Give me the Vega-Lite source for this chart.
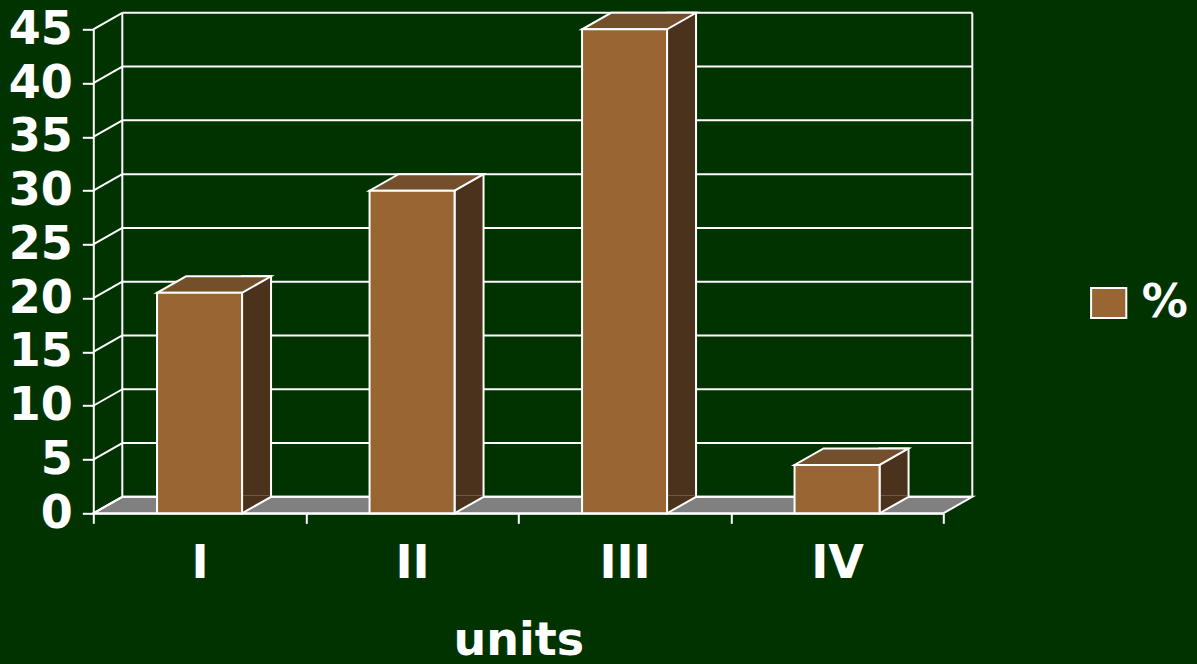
{
  "$schema": "https://vega.github.io/schema/vega-lite/v6.json",
  "width": 850,
  "height": 484,
  "autosize": {"type": "none"},
  "padding": {"left": 93.3, "top": 29.3, "right": 253.7, "bottom": 150.7},
  "background": "#003300",
  "config": {"view": {"stroke": null}, "font": "DejaVu Sans"},
  "datasets": {
    "shares": [
      {"unit": "I", "pct": 20.5, "series": "%"},
      {"unit": "II", "pct": 30, "series": "%"},
      {"unit": "III", "pct": 45, "series": "%"},
      {"unit": "IV", "pct": 4.5, "series": "%"}
    ],
    "levels": [
      {"level": 0}, {"level": 5}, {"level": 10}, {"level": 15}, {"level": 20},
      {"level": 25}, {"level": 30}, {"level": 35}, {"level": 40}, {"level": 45}
    ]
  },
  "layer": [
    {
      "description": "grey floor of the 3-D box",
      "data": {"values": [{}]},
      "mark": {"type": "point", "shape": "M-0.85,0L0.85,0L0.908,-0.033L-0.792,-0.033Z", "size": 1000000, "filled": true, "fill": "#808080", "stroke": "white", "strokeWidth": 2, "opacity": 1},
      "encoding": {
        "x": {"datum": "II", "type": "nominal", "bandPosition": 1, "scale": {"type": "band", "domain": ["I", "II", "III", "IV"], "paddingInner": 0, "paddingOuter": 0}},
        "y": {"datum": 0, "type": "quantitative", "scale": {"domain": [0, 45], "nice": false}}
      }
    },
    {
      "description": "gridlines on the back wall",
      "data": {"name": "levels"},
      "mark": {"type": "rule", "stroke": "white", "strokeWidth": 2, "xOffset": 29, "x2Offset": 29, "yOffset": -16.5},
      "encoding": {
        "x": {"datum": "I", "type": "nominal", "bandPosition": 0},
        "x2": {"datum": "IV", "bandPosition": 1},
        "y": {"field": "level", "type": "quantitative"}
      }
    },
    {
      "description": "gridlines on the left side wall",
      "data": {"name": "levels"},
      "mark": {"type": "rule", "stroke": "white", "strokeWidth": 2, "x2Offset": 29, "y2Offset": -16.5},
      "encoding": {
        "x": {"datum": "I", "type": "nominal", "bandPosition": 0},
        "x2": {"datum": "I", "bandPosition": 0},
        "y": {"field": "level", "type": "quantitative"},
        "y2": {"field": "level"}
      }
    },
    {
      "description": "back-left edge of the wall",
      "data": {"values": [{}]},
      "mark": {"type": "rule", "stroke": "white", "strokeWidth": 2, "xOffset": 29, "yOffset": -16.5, "y2Offset": -16.5},
      "encoding": {
        "x": {"datum": "I", "type": "nominal", "bandPosition": 0},
        "y": {"datum": 0, "type": "quantitative"},
        "y2": {"datum": 45}
      }
    },
    {
      "description": "back-right edge of the wall",
      "data": {"values": [{}]},
      "mark": {"type": "rule", "stroke": "white", "strokeWidth": 2, "xOffset": 29, "yOffset": -16.5, "y2Offset": -16.5},
      "encoding": {
        "x": {"datum": "IV", "type": "nominal", "bandPosition": 1},
        "y": {"datum": 0, "type": "quantitative"},
        "y2": {"datum": 45}
      }
    },
    {
      "description": "shaded right side of each column",
      "data": {"name": "shares"},
      "mark": {"type": "bar", "width": 29, "xOffset": 57, "yOffset": -16.5, "y2Offset": -16.5, "fill": "#4B321C", "stroke": "white", "strokeWidth": 2},
      "encoding": {
        "x": {"field": "unit", "type": "nominal"},
        "y": {"field": "pct", "type": "quantitative"},
        "y2": {"datum": 0}
      }
    },
    {
      "description": "lower corner of each side face, meeting the floor",
      "data": {"name": "shares"},
      "mark": {"type": "point", "shape": "M0.425,-0.175L0.425,0L0.715,-0.165L0.715,-0.175", "size": 40000, "filled": true, "fill": "#4B321C", "stroke": "white", "strokeWidth": 2, "opacity": 1},
      "encoding": {
        "x": {"field": "unit", "type": "nominal"},
        "y": {"datum": 0, "type": "quantitative"}
      }
    },
    {
      "description": "top face of each column",
      "data": {"name": "shares"},
      "mark": {"type": "point", "shape": "M-0.425,0L0.425,0L0.715,-0.165L-0.135,-0.165Z", "size": 40000, "filled": true, "fill": "#744F2B", "stroke": "white", "strokeWidth": 2, "opacity": 1},
      "encoding": {
        "x": {"field": "unit", "type": "nominal"},
        "y": {"field": "pct", "type": "quantitative"}
      }
    },
    {
      "description": "front face of each column",
      "data": {"name": "shares"},
      "mark": {"type": "bar", "width": {"band": 0.4}, "stroke": "white", "strokeWidth": 2, "opacity": 1},
      "encoding": {
        "x": {
          "field": "unit", "type": "nominal",
          "axis": {
            "title": "units", "labelAngle": 0, "labelAlign": "center", "labelFontSize": 46, "labelFontWeight": "bold", "labelColor": "white", "labelPadding": 40,
            "tickBand": "extent", "tickColor": "white", "tickSize": 10, "tickWidth": 2,
            "domainColor": "white", "domainWidth": 2,
            "titleFontSize": 46, "titleFontWeight": "bold", "titleColor": "white", "titlePadding": 32
          }
        },
        "y": {
          "field": "pct", "type": "quantitative",
          "axis": {
            "title": null, "values": [0, 5, 10, 15, 20, 25, 30, 35, 40, 45], "grid": false,
            "labelFontSize": 46, "labelFontWeight": "bold", "labelColor": "white", "labelPadding": 10,
            "tickColor": "white", "tickSize": 11, "tickWidth": 2,
            "domainColor": "white", "domainWidth": 2
          }
        },
        "color": {
          "field": "series", "type": "nominal",
          "scale": {"range": ["#996633"]},
          "legend": {
            "title": null, "orient": "none", "legendX": 992.4, "legendY": 250.7, "padding": 0,
            "symbolType": "M-1,-0.85H1V0.85H-1Z", "symbolSize": 1239, "symbolStrokeColor": "white", "symbolStrokeWidth": 2, "symbolOpacity": 1,
            "labelFontSize": 46, "labelFontWeight": "bold", "labelColor": "white", "labelOffset": 10
          }
        }
      }
    }
  ]
}
